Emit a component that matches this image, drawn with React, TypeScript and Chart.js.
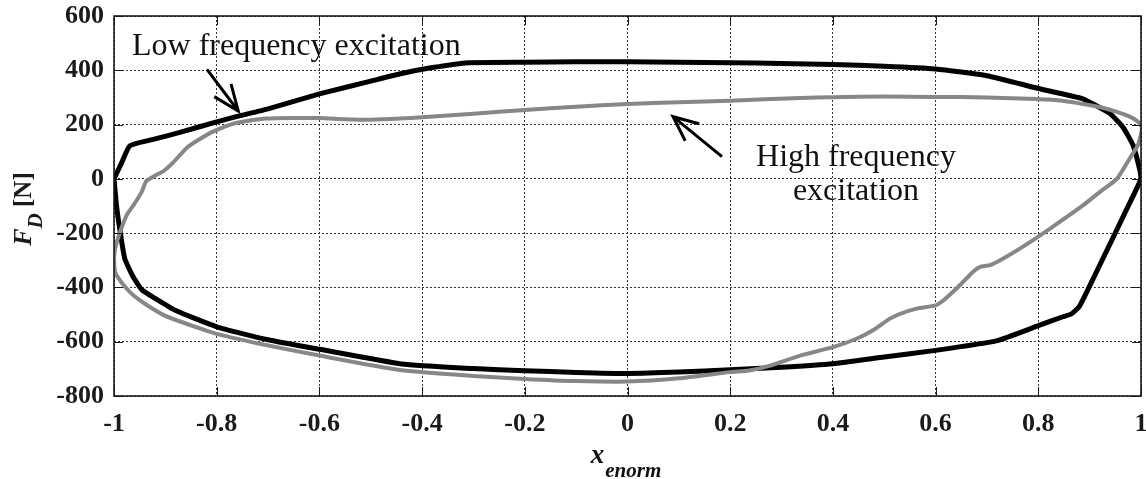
import React, { useEffect, useRef } from 'react';
import { Chart, registerables } from 'chart.js';

Chart.register(...registerables);

// ---- tick values ----
const xTicks = [-1, -0.8, -0.6, -0.4, -0.2, 0, 0.2, 0.4, 0.6, 0.8, 1];
const yTicks = [-800, -600, -400, -200, 0, 200, 400, 600];

// ---- low frequency excitation loop (black) ----
const lowX = [
  -1.0, -0.985, -0.969, -0.92, -0.87, -0.8, -0.76, -0.7, -0.6, -0.5, -0.44, -0.38, -0.31,
  -0.2, -0.1, 0, 0.1, 0.2, 0.3, 0.4, 0.5, 0.6, 0.7, 0.8, 0.887, 0.92, 0.94, 0.965, 0.985,
  0.998, 1.0, 0.968, 0.935, 0.905, 0.88, 0.865, 0.848, 0.8, 0.72, 0.6, 0.5, 0.4, 0.3, 0.2,
  0.1, 0, -0.1, -0.2, -0.3, -0.44, -0.6, -0.7, -0.8, -0.88, -0.92, -0.945, -0.963, -0.979,
  -0.988, -0.995, -1.0,
];
const lowY = [
  0, 60, 122, 147, 172, 210, 230, 258, 313, 360, 388, 410, 428,
  430, 431, 431, 430, 428, 425, 421, 415, 405, 380, 333, 295, 262, 240, 190, 122,
  30, 0, -128, -258, -375, -470, -497, -508, -541, -596, -632, -656, -681, -694, -703,
  -712, -717, -713, -707, -699, -682, -628, -593, -545, -485, -440, -410, -360, -294,
  -195, -100, 0,
];

// ---- high frequency excitation loop (grey) ----
const highX = [
  -1.0, -0.998, -0.988, -0.975, -0.962, -0.946, -0.937, -0.917, -0.904, -0.885, -0.858,
  -0.832, -0.806, -0.768, -0.735, -0.703, -0.65, -0.6, -0.55, -0.5, -0.443, -0.4, -0.3,
  -0.2, -0.1, 0, 0.1, 0.2, 0.336, 0.4, 0.5, 0.6, 0.7, 0.797, 0.85, 0.887, 0.925, 0.953,
  0.975, 0.992, 1.0, 1.002, 0.998, 0.994, 0.978, 0.953, 0.92, 0.887, 0.823, 0.764, 0.731,
  0.706, 0.686, 0.673, 0.654, 0.634, 0.615, 0.6, 0.563, 0.531, 0.511, 0.478, 0.446, 0.4,
  0.336, 0.278, 0.237, 0.2, 0.1, 0, -0.1, -0.2, -0.3, -0.443, -0.6, -0.7, -0.8, -0.85,
  -0.9, -0.94, -0.963, -0.975, -0.988, -0.998, -1.0,
];
const highY = [
  -293, -257, -195, -133, -97, -48, -8, 15, 28, 60, 115,
  148, 175, 203, 215, 222, 224, 224, 220, 218, 222, 227, 240,
  254, 266, 276, 282, 288, 298, 301, 303, 302, 300, 294, 287, 276, 262, 247,
  232, 214, 197, 184, 150, 124, 75, 0, -48, -98, -183, -257, -294,
  -318, -325, -342, -379, -416, -448, -466, -478, -497, -515, -558, -589, -620,
  -651, -688, -706, -712, -735, -747, -745, -737, -726, -704, -651, -614, -571, -540,
  -505, -460, -428, -405, -375, -342, -293,
];

// ---- annotations (text + arrows in data coordinates) ----
const lowLabel = 'Low frequency excitation';
const lowLabelPos = { x: -0.965, y: 458 };
const lowArrow = { fromX: -0.819, fromY: 403, toX: -0.758, toY: 250 };
const highLabelLines = ['High frequency', 'excitation'];
const highLabelPos = { x: 0.445, y1: 48, y2: -77 };
const highArrow = { fromX: 0.184, fromY: 82, toX: 0.0886, toY: 229 };

const SERIF = '"Liberation Serif", "Times New Roman", serif';

function zip(xs: number[], ys: number[]) {
  return xs.map((x, i) => ({ x, y: ys[i] }));
}

const overlayPlugin = {
  id: 'overlay',
  afterDraw(chart: any) {
    const { ctx, chartArea: a, scales } = chart;
    const xs = scales.x;
    const ys = scales.y;
    const px = (v: number) => xs.getPixelForValue(v);
    const py = (v: number) => ys.getPixelForValue(v);
    ctx.save();

    // inward ticks
    ctx.strokeStyle = '#1a1a1a';
    ctx.lineWidth = 1;
    const T = 9;
    ctx.beginPath();
    xTicks.forEach((v) => {
      const x = Math.round(px(v)) + 0.5;
      ctx.moveTo(x, a.bottom);
      ctx.lineTo(x, a.bottom - T);
      ctx.moveTo(x, a.top);
      ctx.lineTo(x, a.top + T);
    });
    yTicks.forEach((v) => {
      const y = Math.round(py(v)) + 0.5;
      ctx.moveTo(a.left, y);
      ctx.lineTo(a.left + T, y);
      ctx.moveTo(a.right, y);
      ctx.lineTo(a.right - T, y);
    });
    ctx.stroke();

    // box
    ctx.lineWidth = 1.6;
    ctx.strokeStyle = '#1a1a1a';
    ctx.strokeRect(a.left, a.top, a.right - a.left, a.bottom - a.top);

    // arrows
    const drawArrow = (arr: any, len: number, ang: number) => {
      const x1 = px(arr.fromX), y1 = py(arr.fromY);
      const x2 = px(arr.toX), y2 = py(arr.toY);
      const th = Math.atan2(y1 - y2, x1 - x2);
      ctx.strokeStyle = '#000';
      ctx.lineWidth = 3;
      ctx.lineCap = 'butt';
      ctx.beginPath();
      ctx.moveTo(x1, y1);
      ctx.lineTo(x2, y2);
      ctx.moveTo(x2 + len * Math.cos(th + ang), y2 + len * Math.sin(th + ang));
      ctx.lineTo(x2, y2);
      ctx.lineTo(x2 + len * Math.cos(th - ang), y2 + len * Math.sin(th - ang));
      ctx.stroke();
    };
    drawArrow(lowArrow, 28, (22 * Math.PI) / 180);
    drawArrow(highArrow, 27, (24 * Math.PI) / 180);

    // annotation text
    ctx.fillStyle = '#111';
    ctx.font = `32px ${SERIF}`;
    ctx.textBaseline = 'alphabetic';
    ctx.textAlign = 'left';
    ctx.fillText(lowLabel, px(lowLabelPos.x), py(lowLabelPos.y));
    ctx.textAlign = 'center';
    ctx.fillText(highLabelLines[0], px(highLabelPos.x), py(highLabelPos.y1));
    ctx.fillText(highLabelLines[1], px(highLabelPos.x), py(highLabelPos.y2));

    // y axis title: F_D [N]
    ctx.save();
    ctx.translate(a.left - 83, (a.top + a.bottom) / 2 + 3);
    ctx.rotate(-Math.PI / 2);
    ctx.textAlign = 'left';
    const fF = `italic bold 26px ${SERIF}`;
    const fD = `italic bold 21px ${SERIF}`;
    const fN = `bold 25px ${SERIF}`;
    ctx.font = fF; const wF = ctx.measureText('F').width;
    ctx.font = fD; const wD = ctx.measureText('D').width;
    ctx.font = fN; const wN = ctx.measureText(' [N]').width;
    let tx = -(wF + wD + wN) / 2;
    ctx.fillStyle = '#1a1a1a';
    ctx.font = fF; ctx.fillText('F', tx, 0); tx += wF;
    ctx.font = fD; ctx.fillText('D', tx, 11); tx += wD;
    ctx.font = fN; ctx.fillText(' [N]', tx, 0);
    ctx.restore();

    // x axis title: x_enorm
    const fx = `italic bold 27px ${SERIF}`;
    const fe = `italic bold 21px ${SERIF}`;
    ctx.font = fx; const wx = ctx.measureText('x').width;
    ctx.font = fe; const we = ctx.measureText('enorm').width;
    let sx = (a.left + a.right) / 2 - 2 - (wx + we) / 2;
    ctx.textAlign = 'left';
    ctx.font = fx; ctx.fillText('x', sx, a.bottom + 67); sx += wx + 1;
    ctx.font = fe; ctx.fillText('enorm', sx, a.bottom + 81);

    ctx.restore();
  },
};

export default function App() {
  const ref = useRef<HTMLCanvasElement>(null);
  useEffect(() => {
    const tickFont = { family: SERIF, size: 26, weight: 'bold' as const };
    const chart = new Chart(ref.current as HTMLCanvasElement, {
      type: 'scatter',
      data: {
        datasets: [
          {
            label: 'High frequency excitation',
            data: zip(highX, highY),
            showLine: true,
            borderColor: '#878787',
            borderWidth: 4,
            pointRadius: 0,
            tension: 0.2,
            fill: false,
            order: 0,
          },
          {
            label: 'Low frequency excitation',
            data: zip(lowX, lowY),
            showLine: true,
            borderColor: '#000000',
            borderWidth: 5,
            pointRadius: 0,
            tension: 0.15,
            fill: false,
            order: 1,
          },
        ],
      },
      options: {
        responsive: false,
        animation: false,
        layout: { padding: { top: 16, right: 5, left: 0, bottom: 0 } },
        plugins: { legend: { display: false }, tooltip: { enabled: false }, title: { display: false } },
        scales: {
          x: {
            type: 'linear',
            min: -1,
            max: 1,
            afterBuildTicks: (s: any) => {
              s.ticks = xTicks.map((v) => ({ value: v }));
            },
            afterFit: (s: any) => {
              s.height = 83;
              s.paddingLeft = 0;
              s.paddingRight = 0;
            },
            ticks: {
              font: tickFont,
              color: '#1a1a1a',
              padding: 13,
              autoSkip: false,
              maxRotation: 0,
              callback: (v: any) => String(v),
            },
            grid: { color: '#333', lineWidth: 1, drawTicks: false, borderDash: [2, 2] } as any,
            border: { display: false, dash: [2, 2] },
          },
          y: {
            type: 'linear',
            min: -800,
            max: 600,
            afterBuildTicks: (s: any) => {
              s.ticks = yTicks.map((v) => ({ value: v }));
            },
            afterFit: (s: any) => {
              s.width = 114;
              s.paddingTop = 0;
              s.paddingBottom = 0;
            },
            ticks: {
              font: tickFont,
              color: '#1a1a1a',
              padding: 10,
              autoSkip: false,
              callback: (v: any) => String(v),
            },
            grid: { color: '#333', lineWidth: 1, drawTicks: false, borderDash: [2, 2] } as any,
            border: { display: false, dash: [2, 2] },
          },
        },
      },
      plugins: [overlayPlugin],
    });
    return () => chart.destroy();
  }, []);

  return (
    <div style={{ position: 'absolute', left: 0, top: 0, width: 1146, height: 479, background: '#fff' }}>
      <canvas ref={ref} width={1146} height={479} style={{ display: 'block' }} />
    </div>
  );
}
